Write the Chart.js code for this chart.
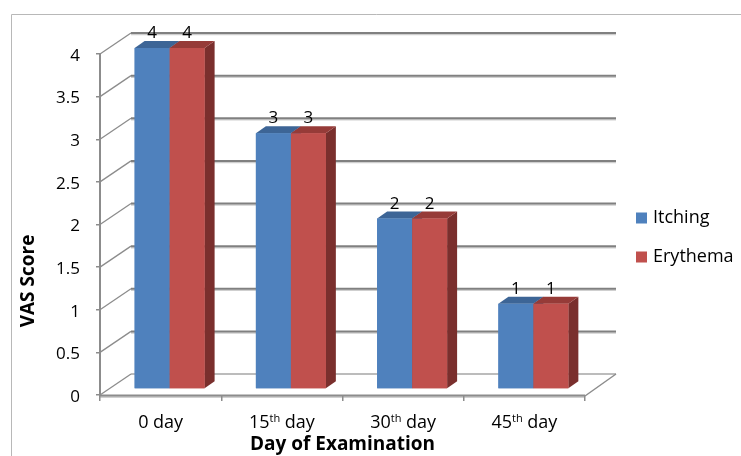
<!DOCTYPE html>
<html>
<head>
<meta charset="utf-8">
<script src="https://cdn.jsdelivr.net/npm/chart.js@4.4.1/dist/chart.umd.min.js"></script>
<style>
  html, body { margin: 0; padding: 0; background: #ffffff; }
  #wrap { width: 741px; height: 456px; }
</style>
</head>
<body>
<div id="wrap"><canvas id="c" width="741" height="456"></canvas></div>
<script>
// Day of examination (x categories)
const categories = ['0 day', '15th day', '30th day', '45th day'];
// VAS score per category
const itching = [4, 3, 2, 1];
const erythema = [4, 3, 2, 1];
// Value axis
const yMin = 0;
const yMax = 4;
const yStep = 0.5;

const FONT = "'Open Sans', 'Liberation Sans', sans-serif";
const WALL = { dx: 31, dy: -21 };      // depth of the back wall
const BAR_SHIFT = { dx: 9, dy: -6 };   // front face of the bars inside the depth
const BAR_DEPTH = { dx: 10, dy: -7 };  // thickness of each bar

const faceShade = {
  '#4F81BD': { top: '#3D6596', side: '#345882' },
  '#C0504D': { top: '#963B38', side: '#7A2F2D' }
};

function line(ctx, x1, y1, x2, y2, color, width) {
  ctx.beginPath();
  ctx.moveTo(x1, y1);
  ctx.lineTo(x2, y2);
  ctx.strokeStyle = color;
  ctx.lineWidth = width;
  ctx.stroke();
}

// Draws a category label; an ordinal suffix is set as superscript.
function drawCategory(ctx, text, cx, cy) {
  const m = text.match(/^(\d+)(st|nd|rd|th)(.*)$/);
  const big = '18px ' + FONT;
  const small = '11px ' + FONT;
  ctx.textBaseline = 'alphabetic';
  ctx.textAlign = 'left';
  ctx.fillStyle = '#000';
  const base = cy + 6;
  if (!m) {
    ctx.font = big;
    const w = ctx.measureText(text).width;
    ctx.fillText(text, cx - w / 2, base);
    return;
  }
  ctx.font = big; const w1 = ctx.measureText(m[1]).width;
  ctx.font = small; const w2 = ctx.measureText(m[2]).width;
  ctx.font = big; const w3 = ctx.measureText(m[3]).width;
  let x = cx - (w1 + w2 + w3) / 2;
  ctx.font = big; ctx.fillText(m[1], x, base); x += w1;
  ctx.font = small; ctx.fillText(m[2], x, base - 6); x += w2;
  ctx.font = big; ctx.fillText(m[3], x, base);
}

const box3d = {
  id: 'box3d',
  beforeDraw(chart) {
    const ctx = chart.ctx;
    const ys = chart.scales.y;
    const xs = chart.scales.x;
    const L = xs.left, R = xs.right;
    const y0 = ys.getPixelForValue(0);
    ctx.save();
    // outer frame
    line(ctx, 11.5, 14.5, 741, 14.5, '#b8b8b8', 1);
    line(ctx, 11.5, 14.5, 11.5, 456, '#b8b8b8', 1);

    // floor
    ctx.beginPath();
    ctx.moveTo(L, y0);
    ctx.lineTo(R, y0);
    ctx.lineTo(R + WALL.dx, y0 + WALL.dy);
    ctx.lineTo(L + WALL.dx, y0 + WALL.dy);
    ctx.closePath();
    ctx.fillStyle = '#ffffff';
    ctx.fill();
    line(ctx, L + WALL.dx, y0 + WALL.dy, R + WALL.dx, y0 + WALL.dy, '#a6a6a6', 1.5);
    line(ctx, R, y0 + 1, R + WALL.dx, y0 + WALL.dy, '#8c8c8c', 1.5);
    line(ctx, L, y0 + 2, R, y0 + 2, '#d0d0d0', 2);
    line(ctx, L, y0 + 0.5, R, y0 + 0.5, '#8c8c8c', 2);

    // back-wall gridlines and side-wall diagonals
    for (let v = yMin; v <= yMax + 1e-9; v += yStep) {
      const y = ys.getPixelForValue(v);
      if (v > yMin) {
        line(ctx, L + WALL.dx, y + WALL.dy + 1.5, R + WALL.dx, y + WALL.dy + 1.5, '#cfcfcf', 1.5);
        line(ctx, L + WALL.dx, y + WALL.dy, R + WALL.dx, y + WALL.dy, '#808080', 2);
      }
      line(ctx, L, y, L + WALL.dx, y + WALL.dy, '#8c8c8c', 1.3);
    }
    ctx.restore();
  },
  beforeDatasetsDraw(chart) {
    chart.ctx.save();
    chart.ctx.translate(BAR_SHIFT.dx, BAR_SHIFT.dy);
  },
  afterDatasetsDraw(chart) {
    const ctx = chart.ctx;
    // top and side faces, in the same shifted frame as the fronts
    chart.data.datasets.forEach((ds, di) => {
      const meta = chart.getDatasetMeta(di);
      const shade = faceShade[ds.backgroundColor];
      meta.data.forEach((bar) => {
        const p = bar.getProps(['x', 'y', 'base', 'width'], true);
        const x0 = p.x - p.width / 2, x1 = p.x + p.width / 2;
        const top = p.y, base = p.base;
        // side
        ctx.beginPath();
        ctx.moveTo(x1, top);
        ctx.lineTo(x1 + BAR_DEPTH.dx, top + BAR_DEPTH.dy);
        ctx.lineTo(x1 + BAR_DEPTH.dx, base + BAR_DEPTH.dy);
        ctx.lineTo(x1, base);
        ctx.closePath();
        ctx.fillStyle = shade.side;
        ctx.fill();
        // top
        ctx.beginPath();
        ctx.moveTo(x0, top);
        ctx.lineTo(x0 + BAR_DEPTH.dx, top + BAR_DEPTH.dy);
        ctx.lineTo(x1 + BAR_DEPTH.dx, top + BAR_DEPTH.dy);
        ctx.lineTo(x1, top);
        ctx.closePath();
        ctx.fillStyle = shade.top;
        ctx.fill();
      });
    });
    // front faces redrawn so the left bar hides its neighbour's side
    chart.data.datasets.forEach((ds, di) => {
      const meta = chart.getDatasetMeta(di);
      meta.data.forEach((bar) => {
        const p = bar.getProps(['x', 'y', 'base', 'width'], true);
        ctx.fillStyle = ds.backgroundColor;
        ctx.fillRect(p.x - p.width / 2, p.y, p.width, p.base - p.y);
      });
    });
    // value labels
    ctx.font = '17px ' + FONT;
    ctx.fillStyle = '#000';
    ctx.textAlign = 'center';
    ctx.textBaseline = 'alphabetic';
    chart.data.datasets.forEach((ds, di) => {
      const meta = chart.getDatasetMeta(di);
      meta.data.forEach((bar, i) => {
        const p = bar.getProps(['x', 'y'], true);
        ctx.fillText(String(ds.data[i]), p.x, p.y - 10);
      });
    });
    ctx.restore();
  },
  afterDraw(chart) {
    const ctx = chart.ctx;
    const xs = chart.scales.x;
    ctx.save();
    // category labels
    categories.forEach((c, i) => drawCategory(ctx, c, xs.getPixelForValue(i), 422));
    // axis titles
    ctx.fillStyle = '#000';
    ctx.font = 'bold 19px ' + FONT;
    ctx.textAlign = 'center';
    ctx.textBaseline = 'middle';
    ctx.fillText('Day of Examination', (xs.left + xs.right) / 2, 445);
    ctx.save();
    ctx.translate(29, 281);
    ctx.rotate(-Math.PI / 2);
    ctx.fillText('VAS Score', 0, 0);
    ctx.restore();
    // legend
    const items = chart.data.datasets;
    ctx.font = '18px ' + FONT;
    ctx.textAlign = 'left';
    items.forEach((ds, i) => {
      const cy = 218 + i * 39;
      ctx.fillStyle = ds.backgroundColor;
      ctx.fillRect(636, cy - 5.5, 11, 11);
      ctx.fillStyle = '#000';
      ctx.fillText(ds.label, 653, cy);
    });
    ctx.restore();
  }
};

new Chart(document.getElementById('c'), {
  type: 'bar',
  data: {
    labels: categories,
    datasets: [
      { label: 'Itching', data: itching, backgroundColor: '#4F81BD', borderWidth: 0, clip: false },
      { label: 'Erythema', data: erythema, backgroundColor: '#C0504D', borderWidth: 0, clip: false }
    ]
  },
  options: {
    responsive: false,
    animation: false,
    devicePixelRatio: 1,
    layout: { padding: { left: 0, top: 54, right: 156, bottom: 0 } },
    datasets: { bar: { categoryPercentage: 0.577, barPercentage: 1.0 } },
    plugins: { legend: { display: false }, tooltip: { enabled: false } },
    scales: {
      x: {
        offset: true,
        grid: { offset: true, drawOnChartArea: false, drawTicks: true, tickLength: 6, color: '#8c8c8c', lineWidth: 1.5 },
        border: { display: false },
        ticks: { display: false },
        afterFit(scale) { scale.height = 61; }
      },
      y: {
        min: yMin,
        max: yMax,
        ticks: {
          stepSize: yStep,
          padding: 16,
          labelOffset: 2,
          color: '#000',
          font: { family: FONT, size: 17 },
          callback: (v) => String(v)
        },
        grid: { drawOnChartArea: false, drawTicks: true, tickLength: 4, color: '#8c8c8c', lineWidth: 1.5 },
        border: { display: true, color: '#8c8c8c', width: 2 },
        afterFit(scale) { scale.width = 100; }
      }
    }
  },
  plugins: [box3d]
});
</script>
</body>
</html>
